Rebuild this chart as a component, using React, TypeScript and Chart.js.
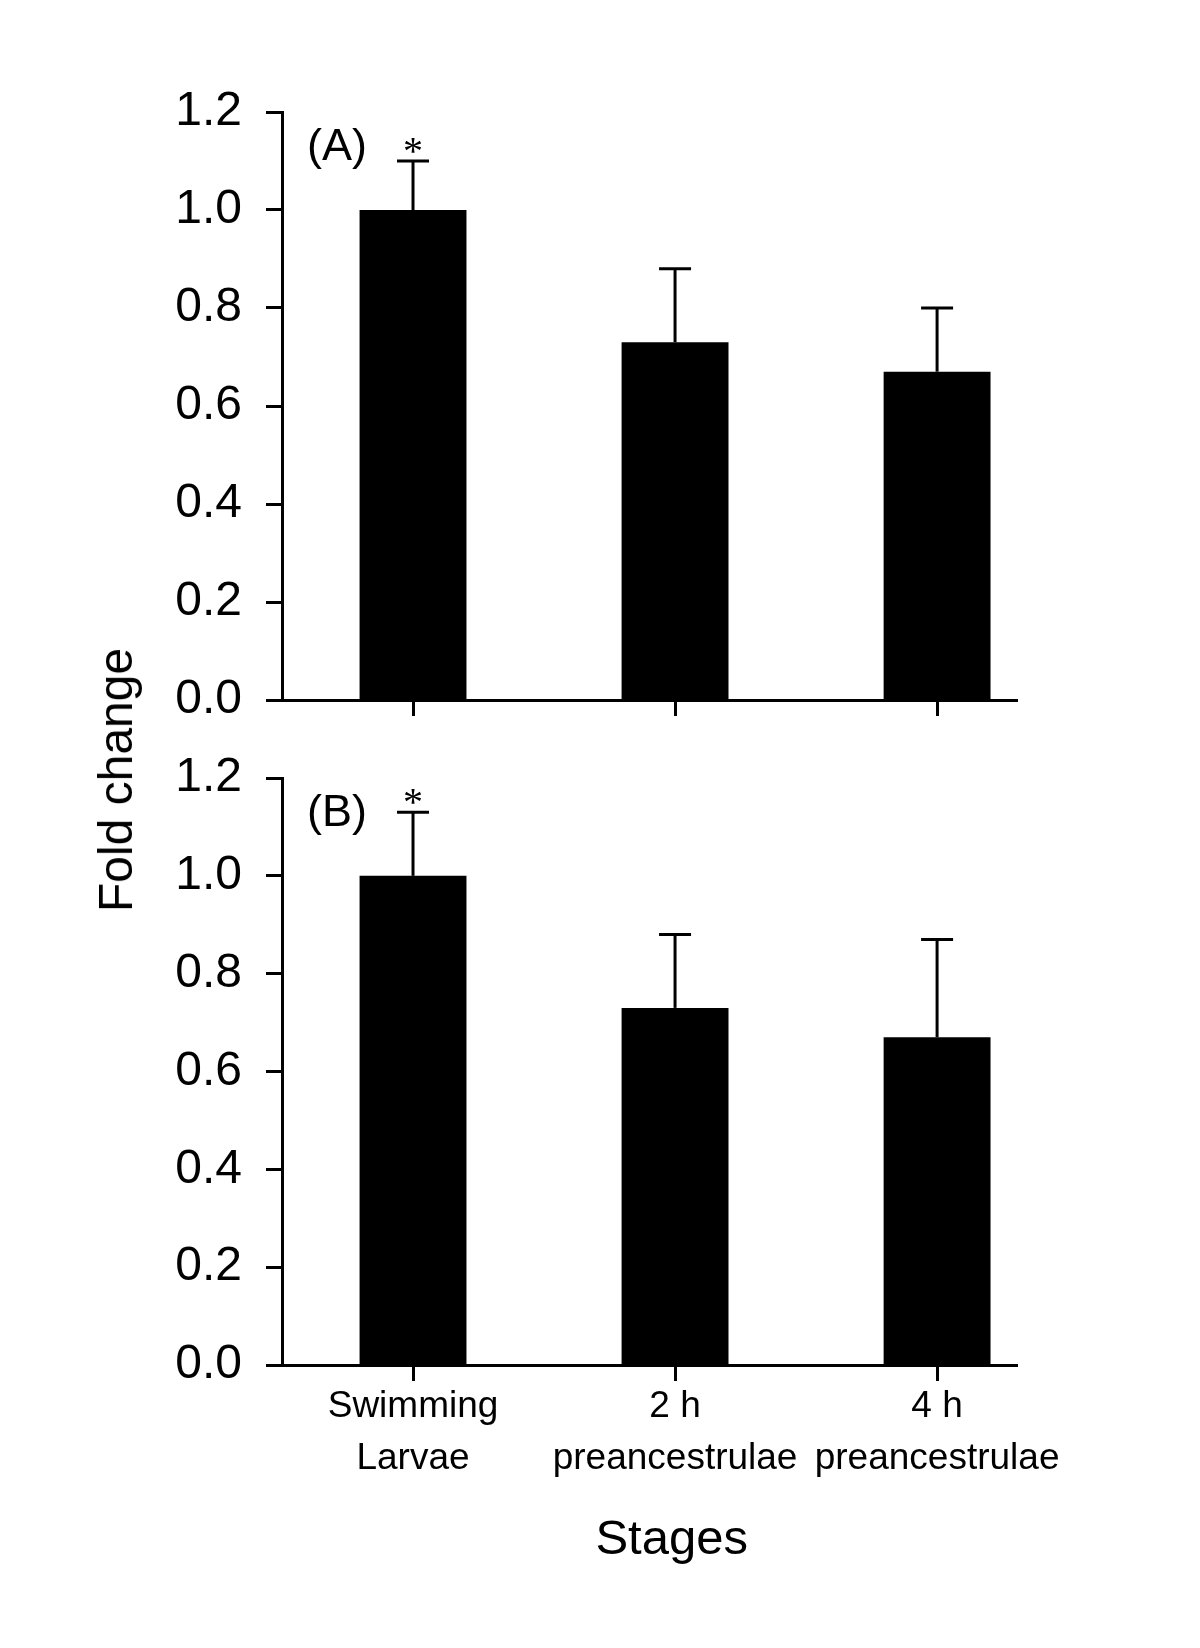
import React, { useEffect, useRef } from "react";
import { Chart, registerables } from "chart.js";

Chart.register(...registerables);

// ---- data ----
const categories: string[][] = [
  ["Swimming", "Larvae"],
  ["2 h", "preancestrulae"],
  ["4 h", "preancestrulae"],
];
const meanA = [1.0, 0.73, 0.67];
const errA = [0.1, 0.15, 0.13];
const meanB = [1.0, 0.73, 0.67];
const errB = [0.13, 0.15, 0.2];
const signifA = ["*", "", ""];
const signifB = ["*", "", ""];
const yTicks = [0, 0.2, 0.4, 0.6, 0.8, 1.0, 1.2];
const panelLabels = ["(A)", "(B)"];
const yTitle = "Fold change";
const xTitle = "Stages";

const FONT = '"Liberation Sans", Arial, sans-serif';

function makeOverlay(errs: number[], signif: string[], label: string) {
  return {
    id: "overlay",
    afterDatasetsDraw(chart: any) {
      const ctx = chart.ctx;
      const xs = chart.scales.x;
      const ys = chart.scales.y;
      const data = chart.data.datasets[0].data as { x: number; y: number }[];
      ctx.save();
      ctx.strokeStyle = "#000";
      ctx.fillStyle = "#000";
      ctx.lineWidth = 3;
      ctx.lineCap = "butt";
      data.forEach((d, i) => {
        const px = xs.getPixelForValue(d.x);
        const y0 = ys.getPixelForValue(d.y);
        const y1 = ys.getPixelForValue(d.y + errs[i]);
        ctx.beginPath();
        ctx.moveTo(px, y0);
        ctx.lineTo(px, y1);
        ctx.stroke();
        ctx.beginPath();
        ctx.moveTo(px - 16, y1);
        ctx.lineTo(px + 16, y1);
        ctx.stroke();
        if (signif[i]) {
          ctx.font = '40px "Liberation Serif", "Times New Roman", serif';
          ctx.textAlign = "center";
          ctx.textBaseline = "alphabetic";
          const m = ctx.measureText(signif[i]);
          const cy = y1 - 16;
          ctx.fillText(
            signif[i],
            px,
            cy + (m.actualBoundingBoxAscent - m.actualBoundingBoxDescent) / 2
          );
        }
      });
      // panel label
      ctx.font = "45px " + FONT;
      ctx.textAlign = "center";
      ctx.textBaseline = "alphabetic";
      const mA = ctx.measureText("A");
      const cx = chart.chartArea.left + 55;
      const cyL = chart.chartArea.top + 32;
      ctx.fillText(label, cx, cyL + mA.actualBoundingBoxAscent / 2);
      ctx.restore();
    },
  };
}

type PanelProps = {
  means: number[];
  errs: number[];
  signif: string[];
  label: string;
  showX: boolean;
  top: number;
  height: number;
  padTop: number;
  axisH: number;
};

function Panel({ means, errs, signif, label, showX, top, height, padTop, axisH }: PanelProps) {
  const ref = useRef<HTMLCanvasElement>(null);
  useEffect(() => {
    if (!ref.current) return;
    const chart = new Chart(ref.current, {
      type: "bar",
      data: {
        datasets: [
          {
            data: means.map((v, i) => ({ x: i, y: v })),
            backgroundColor: "#000",
            borderWidth: 0,
            barPercentage: 0.408,
            categoryPercentage: 1,
          } as any,
        ],
      },
      options: {
        responsive: false,
        maintainAspectRatio: false,
        animation: false,
        devicePixelRatio: 1,
        layout: { padding: { top: padTop, right: 183, left: 0, bottom: 0 } },
        plugins: {
          legend: { display: false },
          tooltip: { enabled: false },
        },
        scales: {
          x: {
            type: "linear",
            min: -0.5,
            max: 2.305,
            offset: false,
            grid: {
              offset: false,
              drawOnChartArea: false,
              drawTicks: true,
              tickLength: 16,
              tickWidth: 3,
              tickColor: "#000",
            },
            border: { display: true, color: "#000", width: 3 },
            afterBuildTicks: (s: any) => {
              s.ticks = categories.map((_, i) => ({ value: i }));
            },
            afterFit: (s: any) => {
              s.height = axisH;
            },
            ticks: {
              display: showX,
              padding: 0,
              maxRotation: 0,
              minRotation: 0,
              autoSkip: false,
              color: "#000",
              font: { family: FONT, size: 37, lineHeight: 1.4 },
              callback: (v: any) => categories[Math.round(Number(v))] as any,
            },
          },
          y: {
            type: "linear",
            min: 0,
            max: 1.2,
            grid: {
              drawOnChartArea: false,
              drawTicks: true,
              tickLength: 16,
              tickWidth: 3,
              tickColor: "#000",
            },
            border: { display: true, color: "#000", width: 3 },
            afterBuildTicks: (s: any) => {
              s.ticks = yTicks.map((v) => ({ value: v }));
            },
            afterFit: (s: any) => {
              s.width = 282;
            },
            ticks: {
              padding: 24,
              color: "#000",
              font: { family: FONT, size: 48 },
              callback: (v: any) => Number(v).toFixed(1),
            },
          },
        } as any,
      },
      plugins: [makeOverlay(errs, signif, label)],
    });
    return () => chart.destroy();
  }, []);
  return (
    <canvas
      ref={ref}
      width={1200}
      height={height}
      style={{ position: "absolute", left: 0, top, width: 1200, height, display: "block" }}
    />
  );
}

export default function App() {
  return (
    <div
      style={{
        position: "absolute",
        left: 0,
        top: 0,
        width: 1200,
        height: 1648,
        background: "#fff",
        overflow: "hidden",
        fontFamily: FONT,
      }}
    >
      <Panel
        means={meanA}
        errs={errA}
        signif={signifA}
        label={panelLabels[0]}
        showX={false}
        top={0}
        height={760}
        padTop={112}
        axisH={60}
      />
      <Panel
        means={meanB}
        errs={errB}
        signif={signifB}
        label={panelLabels[1]}
        showX={true}
        top={720}
        height={928}
        padTop={58}
        axisH={283}
      />
      <div
        style={{
          position: "absolute",
          left: 115.5,
          top: 780,
          transform: "translate(-50%, -50%) rotate(-90deg)",
          fontSize: 48,
          lineHeight: 1,
          whiteSpace: "nowrap",
          color: "#000",
        }}
      >
        {yTitle}
      </div>
      <div
        style={{
          position: "absolute",
          left: 671.7,
          top: 1536.7,
          transform: "translate(-50%, -50%)",
          fontSize: 49,
          lineHeight: 1,
          whiteSpace: "nowrap",
          color: "#000",
        }}
      >
        {xTitle}
      </div>
    </div>
  );
}
